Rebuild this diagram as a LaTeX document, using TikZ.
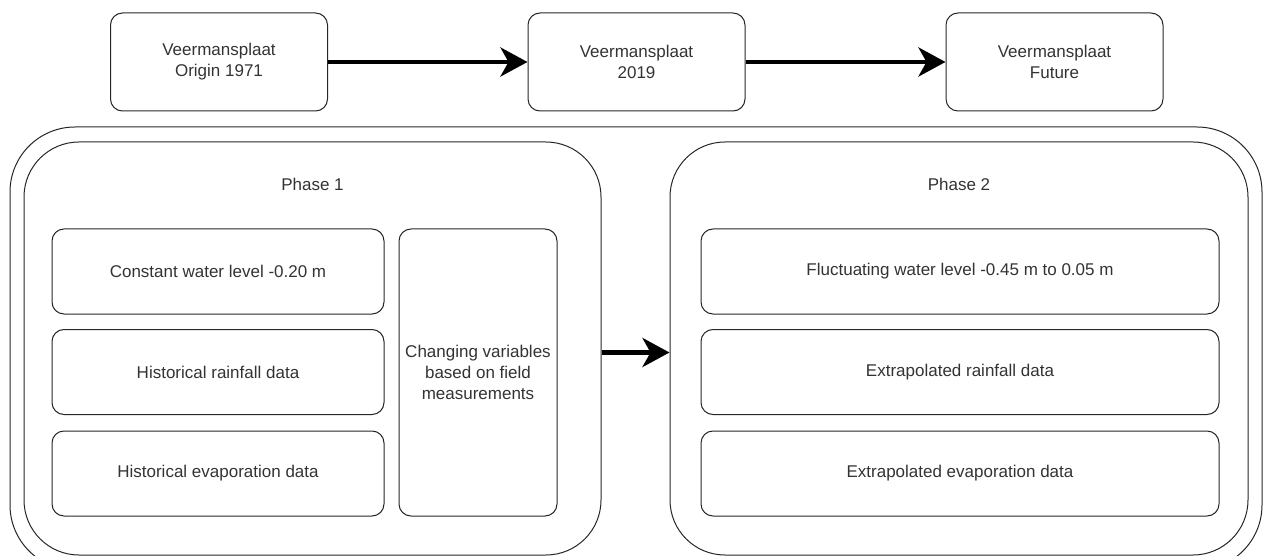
\documentclass[tikz,border=0pt]{standalone}
\usepackage{fontspec}
\setmainfont{Liberation Sans}
\usetikzlibrary{positioning,arrows.meta}

\tikzset{
  stagebox/.style={draw=black!85, line width=1pt, rounded corners=12pt, align=center,
    text=black!80, font=\fontsize{17}{21}\selectfont, inner sep=0pt},
  phasebox/.style={draw=black!85, line width=1pt, rounded corners=55pt, inner sep=0pt},
  flow/.style={line width=4.5pt, -{Stealth[length=27pt,width=29pt,inset=8pt]}},
}

\begin{document}
\begin{tikzpicture}[x=1pt,y=-1pt]
\clip (0,0) rectangle (1267,556);
% timeline on top
\node[stagebox, minimum width=217pt, minimum height=98pt] (origin) at (219,62) {Veermansplaat\\Origin 1971};
\node[stagebox, minimum width=217pt, minimum height=98pt] (now) at (636.5,62) {Veermansplaat\\2019};
\node[stagebox, minimum width=217pt, minimum height=98pt] (future) at (1054.5,62) {Veermansplaat\\Future};
\draw[flow] (origin) -- (now);
\draw[flow] (now) -- (future);
% outer frame and phases
\node[phasebox, rounded corners=65pt, minimum width=1252pt, minimum height=443pt] (frame) at (636,348.5) {};
\node[phasebox, minimum width=577pt, minimum height=413pt,
  label={[anchor=north, yshift=-33pt, text=black!80, font=\fontsize{17}{21}\selectfont]north:Phase 1}] (phaseA) at (312.5,348.5) {};
\node[phasebox, minimum width=578pt, minimum height=413pt,
  label={[anchor=north, yshift=-33pt, text=black!80, font=\fontsize{17}{21}\selectfont]north:Phase 2}] (phaseB) at (959,348.5) {};
% phase 1 contents
\node[stagebox, minimum width=332pt, minimum height=85pt] (levelA) at (218,271.5) {Constant water level -0.20 m};
\node[stagebox, minimum width=332pt, minimum height=85pt] (rainA) at (218,372) {Historical rainfall data};
\node[stagebox, minimum width=332pt, minimum height=85pt] (evapA) at (218,473.5) {Historical evaporation data};
\node[stagebox, minimum width=158pt, minimum height=287pt] (field) at (478,372.5) {Changing variables\\based on field\\measurements};
% phase 2 contents
\node[stagebox, minimum width=518pt, minimum height=85pt] (levelB) at (960,271.5) {Fluctuating water level -0.45 m to 0.05 m};
\node[stagebox, minimum width=518pt, minimum height=85pt] (rainB) at (960,372) {Extrapolated rainfall data};
\node[stagebox, minimum width=518pt, minimum height=85pt] (evapB) at (960,473.5) {Extrapolated evaporation data};
\draw[flow] ([yshift=-4pt]phaseA.east) -- ([yshift=-4pt]phaseB.west);
\end{tikzpicture}
\end{document}
